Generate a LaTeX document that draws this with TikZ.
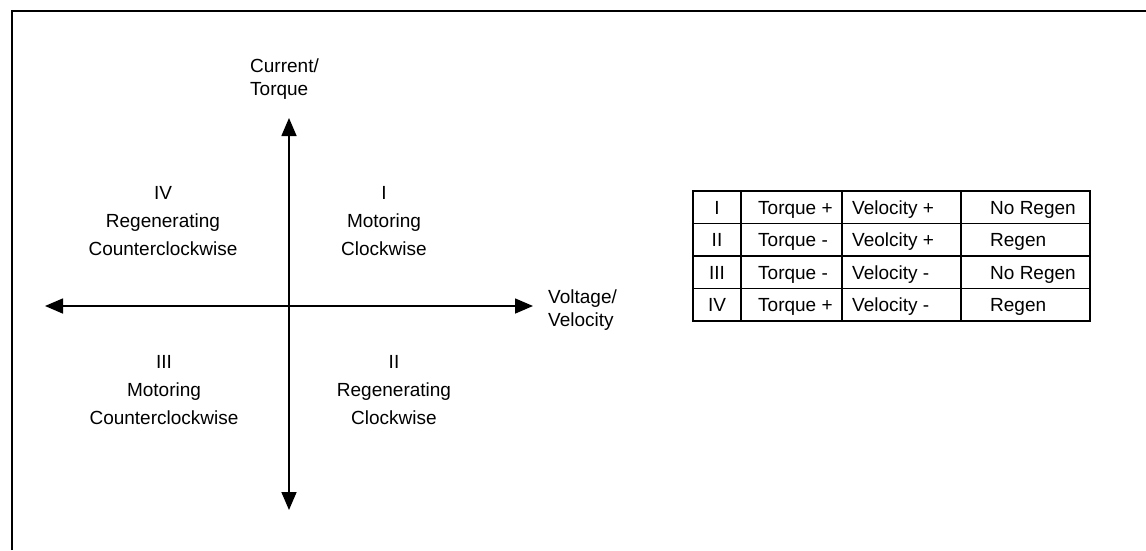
\documentclass[tikz,border=0pt]{standalone}
\usepackage{fontspec}
\setmainfont{Liberation Sans}
\usetikzlibrary{arrows.meta}

\tikzset{
	axis/.style={line width=1.6pt, {Triangle[length=18pt,width=15pt]}-{Triangle[length=18pt,width=15pt]}},
	axislabel/.style={font=\fontsize{19}{23}\selectfont, align=left, inner sep=0pt, anchor=west},
	quadlabel/.style={font=\fontsize{19}{28}\selectfont, align=center, inner sep=0pt},
	cell/.style={font=\fontsize{19}{23}\selectfont, inner sep=0pt, anchor=base west},
	numcell/.style={cell, anchor=base},
	tableline/.style={line width=1.3pt},
}

\begin{document}
\begin{tikzpicture}[x=1pt, y=-1pt]
	\useasboundingbox (0,0) rectangle (1146,550);
	% frame
	\draw[line width=2.5pt] (12,550) -- (12,11) -- (1146,11);

	% axes
	\coordinate (origin) at (289,306);
	\coordinate (top) at (289,118);
	\coordinate (bottom) at (289,510);
	\coordinate (left) at (45,306);
	\coordinate (right) at (533,306);
	\draw[axis] (bottom) -- (top);
	\draw[axis] (left) -- (right);
	\node[axislabel] (current) at (250,79) {Current/\\Torque};
	\node[axislabel] (voltage) at (548,310) {Voltage/\\Velocity};

	% quadrants
	\node[quadlabel] (quadI) at (384,221) {I\\Motoring\\Clockwise};
	\node[quadlabel] (quadII) at (394,390) {II\\Regenerating\\Clockwise};
	\node[quadlabel] (quadIII) at (164,390) {III\\Motoring\\Counterclockwise};
	\node[quadlabel] (quadIV) at (163,221) {IV\\Regenerating\\Counterclockwise};

	% table
	\draw[tableline] (693,191) rectangle (1090,321);
	\draw[tableline] (693,223.5) -- (1090,223.5);
	\draw[tableline] (693,256) -- (1090,256);
	\draw[tableline] (693,288.5) -- (1090,288.5);
	\draw[tableline] (741,191) -- (741,321);
	\draw[tableline] (842,191) -- (842,321);
	\draw[tableline] (961,191) -- (961,321);

	\node[numcell] (rowInum) at (717,214) {I};
	\node[cell] (rowItorque) at (758,214) {Torque +};
	\node[cell] (rowIvel) at (852,214) {Velocity +};
	\node[cell] (rowIregen) at (990,214) {No Regen};

	\node[numcell] (rowIInum) at (717,246.5) {II};
	\node[cell] (rowIItorque) at (758,246.5) {Torque -};
	\node[cell] (rowIIvel) at (852,246.5) {Veolcity +};
	\node[cell] (rowIIregen) at (990,246.5) {Regen};

	\node[numcell] (rowIIInum) at (717,279) {III};
	\node[cell] (rowIIItorque) at (758,279) {Torque -};
	\node[cell] (rowIIIvel) at (852,279) {Velocity -};
	\node[cell] (rowIIIregen) at (990,279) {No Regen};

	\node[numcell] (rowIVnum) at (717,311.5) {IV};
	\node[cell] (rowIVtorque) at (758,311.5) {Torque +};
	\node[cell] (rowIVvel) at (852,311.5) {Velocity -};
	\node[cell] (rowIVregen) at (990,311.5) {Regen};
\end{tikzpicture}
\end{document}
